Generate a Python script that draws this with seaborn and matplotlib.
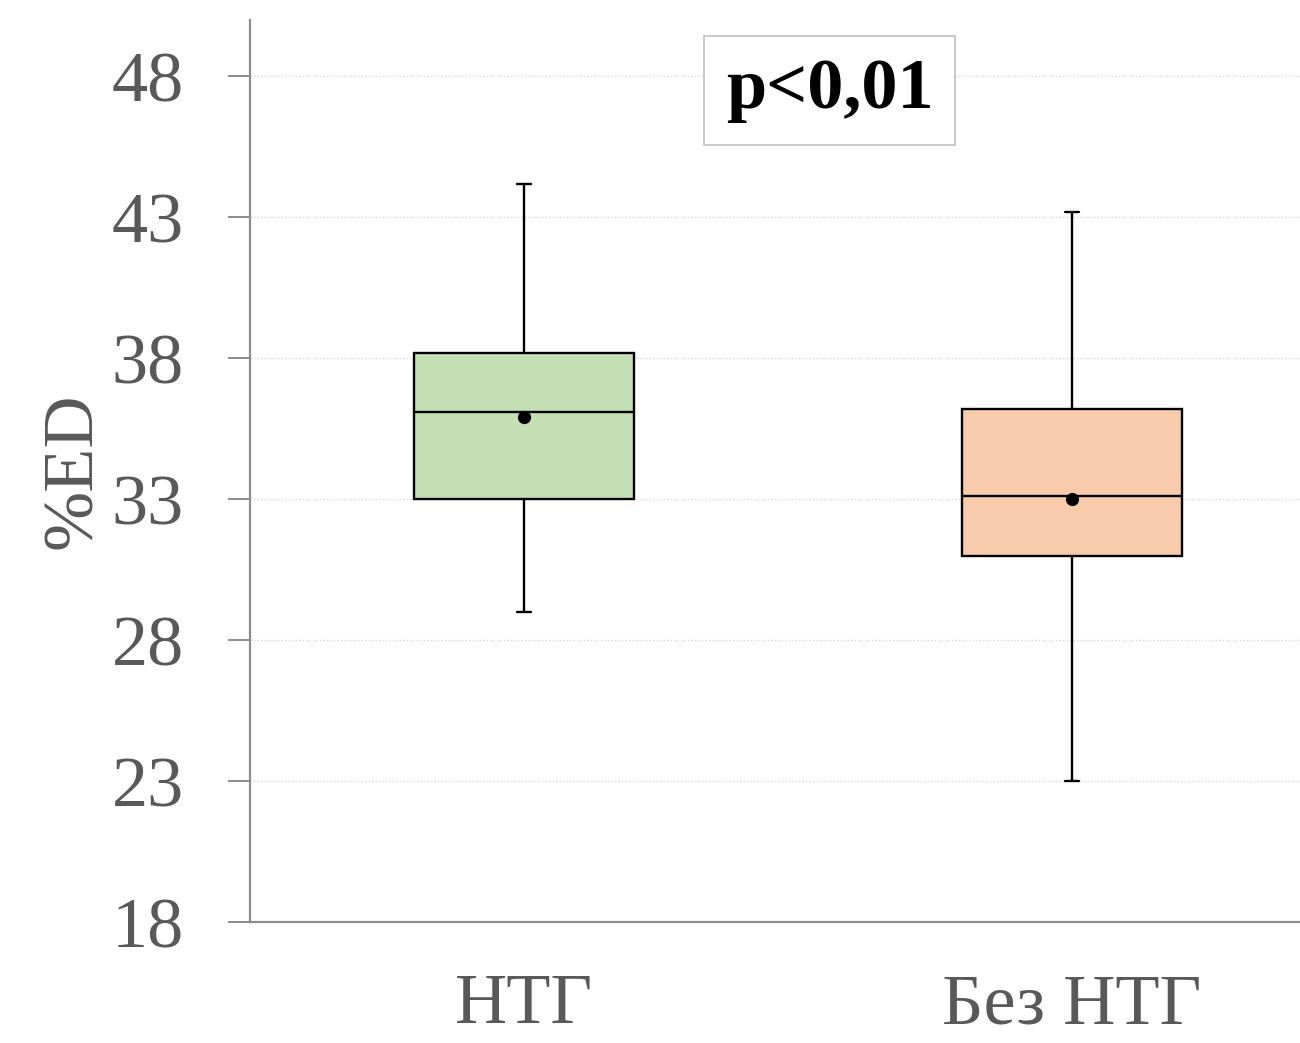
import pandas as pd
import numpy as np
import matplotlib
matplotlib.use("Agg")
from matplotlib import pyplot as plt
import seaborn as sns

# groups and five-number summaries (min, q1, median, q3, max)
groups = ["НТГ", "Без НТГ"]
ntg_summary = [29.0, 33.0, 36.1, 38.2, 44.2]
no_ntg_summary = [23.0, 31.0, 33.1, 36.2, 43.2]
means = [35.9, 33.0]
box_colors = ["#c5e0b4", "#f8cbad"]
y_ticks = [18, 23, 28, 33, 38, 43, 48]
p_text = "p<0,01"

df = pd.DataFrame({
    "group": [groups[0]] * len(ntg_summary) + [groups[1]] * len(no_ntg_summary),
    "value": ntg_summary + no_ntg_summary,
})
means_df = pd.DataFrame({"group": groups, "value": means})

sns.set_style("white")
plt.rcParams["font.family"] = ["Liberation Serif", "DejaVu Serif"]

fig = plt.figure(figsize=(13, 10.43), dpi=100)
ax = fig.add_axes([0.1923, 0.116, 0.8077, 0.8648])

sns.boxplot(data=df, x="group", y="value", hue="group", palette=box_colors,
            saturation=1, width=0.4, whis=(0, 100), linewidth=1.7,
            linecolor="black", showfliers=False, legend=False, ax=ax)

# short whisker caps
for cont in ax.containers:
    for cap in getattr(cont, "caps", []):
        xd = cap.get_xdata()
        mid = np.mean(xd)
        cap.set_xdata([mid - 0.012, mid + 0.012])

sns.stripplot(data=means_df, x="group", y="value", jitter=False, color="black",
              size=9.5, ax=ax, zorder=5)

ax.set_xlim(-0.5, 1.416)
ax.set_ylim(18, 50)
ax.set_yticks(y_ticks)
ax.yaxis.grid(True, linestyle=(0, (1, 1.5)), color="#d9d9d9", linewidth=1.0)
ax.set_axisbelow(True)

for s in ["top", "right"]:
    ax.spines[s].set_visible(False)
for s in ["left", "bottom"]:
    ax.spines[s].set_color("#8c8c8c")
    ax.spines[s].set_linewidth(1.6)

ax.tick_params(axis="y", length=15.5, width=1.4, color="#8c8c8c", pad=32,
               labelsize=52, labelcolor="#595959", direction="out", left=True)
ax.tick_params(axis="x", length=0, pad=37, labelsize=52, labelcolor="#595959")

ax.set_xlabel("")
ax.set_ylabel("%ED", fontsize=52, color="#595959")
ax.yaxis.set_label_coords(-0.137, 0.5)

ax.text(0.558, 47.5, p_text, fontsize=52, fontweight="bold", color="black",
        ha="center", va="center",
        bbox=dict(boxstyle="square,pad=0.3", facecolor="white",
                  edgecolor="#bfbfbf", linewidth=1.2))

plt.savefig("out.png", dpi=100)
